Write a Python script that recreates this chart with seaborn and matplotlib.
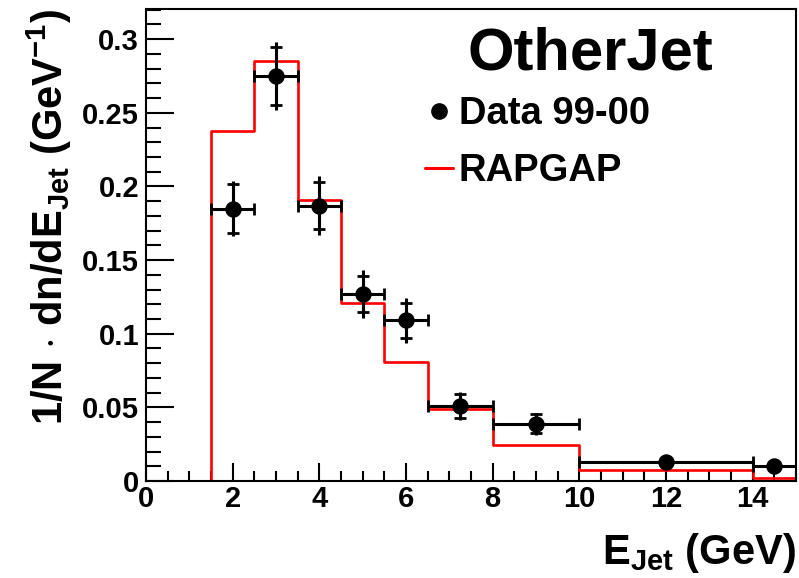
import matplotlib
matplotlib.use("Agg")
import matplotlib.pyplot as plt
from matplotlib.lines import Line2D
import seaborn as sns
import pandas as pd
import numpy as np

# ---- data ----
data_x = [2.0, 3.0, 4.0, 5.0, 6.0, 7.25, 9.0, 12.0, 14.5]
data_y = [0.185, 0.275, 0.187, 0.127, 0.109, 0.051, 0.039, 0.0127, 0.0104]
data_xlo = [1.5, 2.5, 3.5, 4.5, 5.5, 6.5, 8.0, 10.0, 14.0]
data_xhi = [2.5, 3.5, 4.5, 5.5, 6.5, 8.0, 10.0, 14.0, 15.0]
err_stat = [0.0165, 0.0195, 0.016, 0.0125, 0.012, 0.008, 0.0065, 0.002, 0.002]
err_tot = [0.0185, 0.023, 0.020, 0.016, 0.015, 0.0095, 0.0075, 0.003, 0.003]

mc_edges = [0.0, 1.5, 2.5, 3.5, 4.5, 5.5, 6.5, 8.0, 10.0, 14.0, 15.0]
mc_vals = [0.0, 0.2376, 0.285, 0.1908, 0.121, 0.081, 0.0489, 0.0244, 0.0075, 0.0022]

title_text = "OtherJet"
legend_labels = ["Data 99-00", "RAPGAP"]
x_ticks = [0, 2, 4, 6, 8, 10, 12, 14]
y_ticks = [0, 0.05, 0.1, 0.15, 0.2, 0.25, 0.3]
y_tick_labels = ["0", "0.05", "0.1", "0.15", "0.2", "0.25", "0.3"]

# ---- style ----
sns.set_style("ticks")
plt.rcParams["font.family"] = ["Liberation Sans", "DejaVu Sans"]
plt.rcParams["font.weight"] = "bold"
plt.rcParams["text.color"] = "black"
plt.rcParams["axes.labelcolor"] = "black"
plt.rcParams["xtick.color"] = "black"
plt.rcParams["ytick.color"] = "black"
plt.rcParams["mathtext.fontset"] = "custom"
for k in ["rm", "it", "bf", "sf"]:
    plt.rcParams["mathtext." + k] = "Liberation Sans:bold"

fig = plt.figure(figsize=(7.99, 5.78), dpi=100)
ax = fig.add_axes([146 / 799, 1 - 481 / 578, (796 - 146) / 799, (481 - 9) / 578])

# MC histogram as steps
mc_df = pd.DataFrame({"x": mc_edges, "y": mc_vals + [mc_vals[-1]]})
sns.lineplot(data=mc_df, x="x", y="y", ax=ax, color="#ff0000", lw=1.9,
             drawstyle="steps-post", estimator=None, legend=False, zorder=2)

# data points with error bars
dx = np.array(data_x)
xerr = np.vstack([dx - np.array(data_xlo), np.array(data_xhi) - dx])
ax.errorbar(data_x, data_y, yerr=err_tot, fmt="none", ecolor="black",
            elinewidth=2.2, capsize=0, zorder=3)
ax.errorbar(data_x, data_y, xerr=xerr, yerr=err_stat, fmt="none", ecolor="black",
            elinewidth=2.2, capsize=4.5, capthick=2.0, zorder=3)
pts = pd.DataFrame({"x": data_x, "y": data_y})
sns.scatterplot(data=pts, x="x", y="y", ax=ax, color="black", s=140,
                edgecolor="black", linewidth=0, zorder=4, legend=False)

ax.set_xlim(0, 15)
ax.set_ylim(0, 0.3205)
ax.set_xticks(x_ticks)
ax.set_xticklabels([str(t) for t in x_ticks])
ax.set_xticks(np.arange(0, 15.01, 0.5), minor=True)
ax.set_yticks(y_ticks)
ax.set_yticklabels(y_tick_labels)
ax.set_yticks(np.arange(0, 0.3205, 0.01), minor=True)

ax.tick_params(axis="x", which="major", direction="in", length=13, width=1.5,
               labelsize=21, pad=3, top=False, colors="black")
ax.tick_params(axis="x", which="minor", direction="in", length=7, width=1.5, top=False,
               colors="black")
ax.tick_params(axis="y", which="major", direction="in", length=20, width=1.5,
               labelsize=21, pad=5, right=False, colors="black")
ax.tick_params(axis="y", which="minor", direction="in", length=11, width=1.5, right=False,
               colors="black")
for lab in ax.get_xticklabels() + ax.get_yticklabels():
    lab.set_fontweight("bold")
for sp in ax.spines.values():
    sp.set_linewidth(1.5)
    sp.set_color("black")

ax.set_xlabel("")
ax.set_ylabel("")
ax.text(1.0, -0.105, r"E$_{Jet}$ (GeV)", transform=ax.transAxes, ha="right",
        va="top", fontsize=30, fontweight="bold", color="black")
ax.text(-0.148, 1.0, r"1/N $\cdot$ dn/dE$_{Jet}$ (GeV$^{-1}$)", transform=ax.transAxes,
        rotation=90, ha="center", va="top", fontsize=30, fontweight="bold", color="black")

ax.text(0.6836, (481 - 70) / 472, title_text, transform=ax.transAxes, ha="center",
        va="baseline", fontsize=43, fontweight="bold", color="black")

handles = [Line2D([], [], marker="o", color="black", ls="none", markersize=11),
           Line2D([], [], color="#ff0000", lw=2.2)]
leg = ax.legend(handles, legend_labels, loc="upper left",
                bbox_to_anchor=((425 - 146) / 651, 1 - (96 - 9) / 472),
                frameon=False, borderpad=0, borderaxespad=0, handlelength=0.75,
                handletextpad=0.15, labelspacing=0.55,
                prop={"family": "Liberation Sans", "weight": "bold", "size": 27.5})
for t in leg.get_texts():
    t.set_color("black")

fig.savefig("out.png", dpi=100)
